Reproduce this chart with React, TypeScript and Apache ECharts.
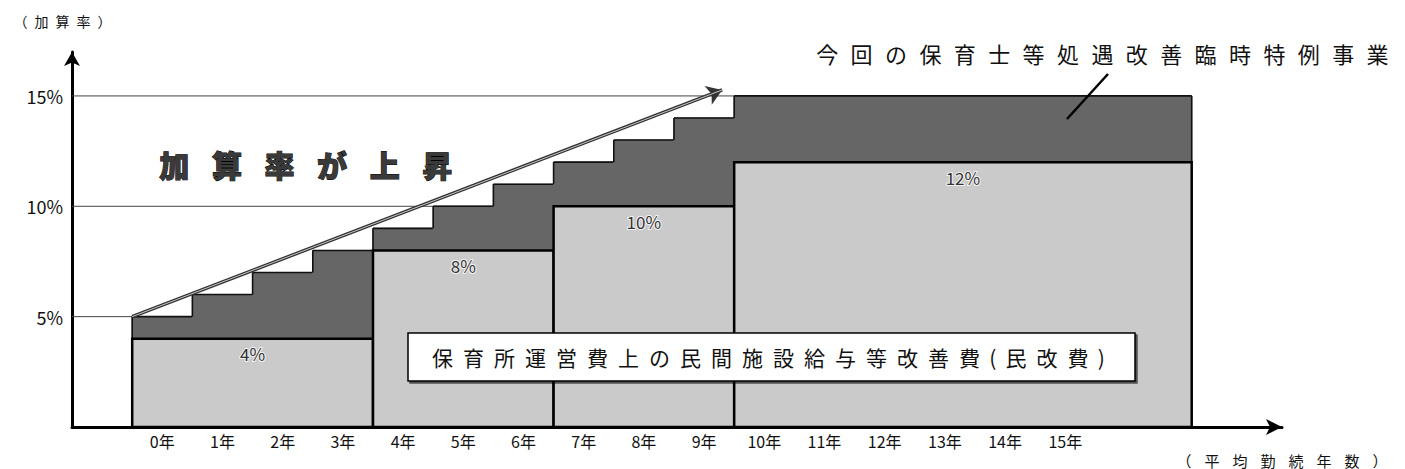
import React, { useEffect, useRef } from "react";
import * as echarts from "echarts";

// ---- data ----
const years = [0, 1, 2, 3, 4, 5, 6, 7, 8, 9, 10, 11, 12, 13, 14, 15];
const baseRate = [4, 4, 4, 4, 8, 8, 8, 10, 10, 10, 12, 12, 12, 12, 12, 12]; // 民改費
const totalRate = [5, 6, 7, 8, 9, 10, 11, 12, 13, 14, 15, 15, 15, 15, 15, 15]; // 民改費 + 特例事業
const openEnd = 17.1; // the last step runs on past 15年
const yTicks = [5, 10, 15];
const trendStart = [-0.5, 5];
const trendEnd = [9.3, 15.27];
const titleText = "今回の保育士等処遇改善臨時特例事業";
const boxText = "保育所運営費上の民間施設給与等改善費(民改費)";
const riseText = "加算率が上昇";
const yName = "（加算率）";
const xName = "（平均勤続年数）";

const FONT = '"Noto Sans CJK JP", "Noto Sans", sans-serif';
const LIGHT = "#cacaca";
const DARK = "#666666";

function groupRuns(keyFn: (i: number) => string) {
  const runs: { key: string; start: number; end: number }[] = [];
  years.forEach((_, i) => {
    const key = keyFn(i);
    const last = runs[runs.length - 1];
    if (last && last.key === key) last.end = i;
    else runs.push({ key, start: i, end: i });
  });
  return runs;
}
const edgeLeft = (i: number) => years[i] - 0.5;
const edgeRight = (i: number) => (i === years.length - 1 ? openEnd : years[i] + 0.5);

const baseRuns = groupRuns((i) => String(baseRate[i]));
const baseBlocks = baseRuns.map((r) => [edgeLeft(r.start), edgeRight(r.end), 0, baseRate[r.start]]);
const baseLabels = baseRuns.map((r) => `${baseRate[r.start]}%`);
const darkBlocks = groupRuns((i) => `${baseRate[i]}-${totalRate[i]}`).map((r) => [
  edgeLeft(r.start),
  edgeRight(r.end),
  baseRate[r.start],
  totalRate[r.start],
]);

// lay characters out one by one with the wide spacing of the original
function spaced(text: string, left: number, step: number, y: number, size: number, extra: any = {}) {
  let cursor = left;
  return Array.from(text).map((ch) => {
    const w = ch.charCodeAt(0) < 0x80 ? step / 2 : step;
    const cx = cursor + w / 2;
    cursor += w;
    return {
      type: "text",
      z: 101,
      x: cx,
      y,
      style: {
        text: ch,
        fill: "#111",
        fontSize: size,
        fontFamily: FONT,
        align: "center",
        verticalAlign: "middle",
        ...extra,
      },
    };
  });
}

export default function App() {
  const ref = useRef<HTMLDivElement>(null);
  useEffect(() => {
    if (!ref.current) return;
    const chart = echarts.init(ref.current, undefined, { renderer: "svg" });

    const darkRender = (params: any, api: any) => {
      const i = params.dataIndex;
      const p0 = api.coord([api.value(0), api.value(3)]);
      const p1 = api.coord([api.value(1), api.value(2)]);
      const prevTop = i > 0 ? darkBlocks[i - 1][3] : api.value(2);
      const pPrev = api.coord([api.value(0), prevTop]);
      const edge = { stroke: "#111", lineWidth: 1.6 };
      const children: any[] = [
        {
          type: "rect",
          shape: { x: p0[0], y: p0[1], width: p1[0] - p0[0], height: p1[1] - p0[1] },
          style: { fill: DARK, stroke: DARK, lineWidth: 1 },
        },
        { type: "line", shape: { x1: p0[0], y1: p0[1], x2: p1[0], y2: p0[1] }, style: edge },
        { type: "line", shape: { x1: p0[0], y1: p0[1], x2: p0[0], y2: pPrev[1] }, style: edge },
      ];
      if (i === darkBlocks.length - 1) {
        children.push({ type: "line", shape: { x1: p1[0], y1: p0[1], x2: p1[0], y2: p1[1] }, style: edge });
      }
      return { type: "group", children };
    };

    const baseRender = (params: any, api: any) => {
      const p0 = api.coord([api.value(0), api.value(3)]);
      const p1 = api.coord([api.value(1), api.value(2)]);
      return {
        type: "group",
        children: [
          {
            type: "rect",
            shape: { x: p0[0], y: p0[1], width: p1[0] - p0[0], height: p1[1] - p0[1] },
            style: { fill: LIGHT, stroke: "#000", lineWidth: 2.5 },
          },
          {
            type: "text",
            x: (p0[0] + p1[0]) / 2,
            y: p0[1] + 15,
            style: {
              text: baseLabels[params.dataIndex],
              fill: "#333",
              fontSize: 17,
              fontFamily: FONT,
              align: "center",
              verticalAlign: "middle",
              stroke: "#f2f2f2",
              lineWidth: 2,
            },
          },
        ],
      };
    };

    chart.setOption({
      animation: false,
      backgroundColor: "#ffffff",
      grid: { left: 72, right: 123, top: 52, bottom: 42 },
      xAxis: {
        type: "value",
        min: -1.5,
        max: 18.6,
        interval: 0.5,
        splitLine: { show: false },
        axisTick: { show: false },
        axisLine: {
          onZero: false,
          symbol: ["none", "arrow"],
          symbolSize: [12, 16],
          lineStyle: { color: "#000", width: 3 },
        },
        axisLabel: {
          margin: 6,
          color: "#111",
          fontSize: 16,
          fontFamily: FONT,
          formatter: (v: number) => {
            const i = years.indexOf(v);
            return i >= 0 ? `${years[i]}年` : "";
          },
        },
      },
      yAxis: {
        type: "value",
        min: 0,
        max: 16.99,
        interval: 5,
        splitLine: { show: false },
        axisTick: { show: false },
        axisLine: {
          show: true,
          onZero: false,
          symbol: ["none", "arrow"],
          symbolSize: [12, 14],
          lineStyle: { color: "#000", width: 3 },
        },
        axisLabel: {
          margin: 9,
          color: "#111",
          fontSize: 18,
          fontFamily: FONT,
          formatter: (v: number) => (yTicks.indexOf(v) >= 0 ? `${v}%` : ""),
        },
      },
      series: [
        {
          type: "custom",
          z: 1,
          silent: true,
          data: yTicks.map((v) => [-1.5, v, openEnd]),
          encode: { x: [0, 2], y: 1 },
          renderItem: (params: any, api: any) => {
            const a = api.coord([api.value(0), api.value(1)]);
            const b = api.coord([api.value(2), api.value(1)]);
            return {
              type: "line",
              shape: { x1: a[0], y1: a[1], x2: b[0], y2: b[1] },
              style: { stroke: "#444", lineWidth: 1 },
            };
          },
        },
        {
          type: "custom",
          z: 2,
          data: darkBlocks,
          encode: { x: [0, 1], y: [2, 3] },
          renderItem: darkRender,
        },
        {
          type: "custom",
          z: 3,
          data: baseBlocks,
          encode: { x: [0, 1], y: [2, 3] },
          renderItem: baseRender,
        },
        {
          type: "lines",
          coordinateSystem: "cartesian2d",
          z: 5,
          symbol: ["none", "arrow"],
          symbolSize: 15,
          lineStyle: { color: "#333", width: 3.5, opacity: 1 },
          data: [{ coords: [trendStart, trendEnd] }],
        },
        {
          type: "lines",
          coordinateSystem: "cartesian2d",
          z: 6,
          symbol: "none",
          lineStyle: { color: "#c8c8c8", width: 1, opacity: 1 },
          data: [{ coords: [trendStart, trendEnd] }],
        },
      ],
      graphic: [
        ...spaced(yName, 10, 21, 21, 14),
        ...spaced(xName, 1170, 28, 460, 15),
        ...spaced(titleText, 810, 34.4, 53, 22),
        ...spaced(riseText, 148, 52.6, 164, 30, {
          fontWeight: 900,
          fill: "#3a3a3a",
          stroke: "#000",
          lineWidth: 1,
        }),
        {
          type: "line",
          z: 100,
          shape: { x1: 1108, y1: 74, x2: 1067, y2: 119 },
          style: { stroke: "#000", lineWidth: 2.5 },
        },
        {
          type: "rect",
          z: 100,
          shape: { x: 408, y: 333, width: 727, height: 48 },
          style: {
            fill: "#ffffff",
            stroke: "#000",
            lineWidth: 1.5,
            shadowColor: "rgba(0,0,0,0.6)",
            shadowOffsetX: 2,
            shadowOffsetY: 2,
            shadowBlur: 0,
          },
        },
        ...spaced(boxText, 427, 31, 357, 21),
      ],
    });
    return () => chart.dispose();
  }, []);
  return (
    <div
      ref={ref}
      style={{ position: "fixed", left: 0, top: 0, width: 1405, height: 469, background: "#fff" }}
    />
  );
}
